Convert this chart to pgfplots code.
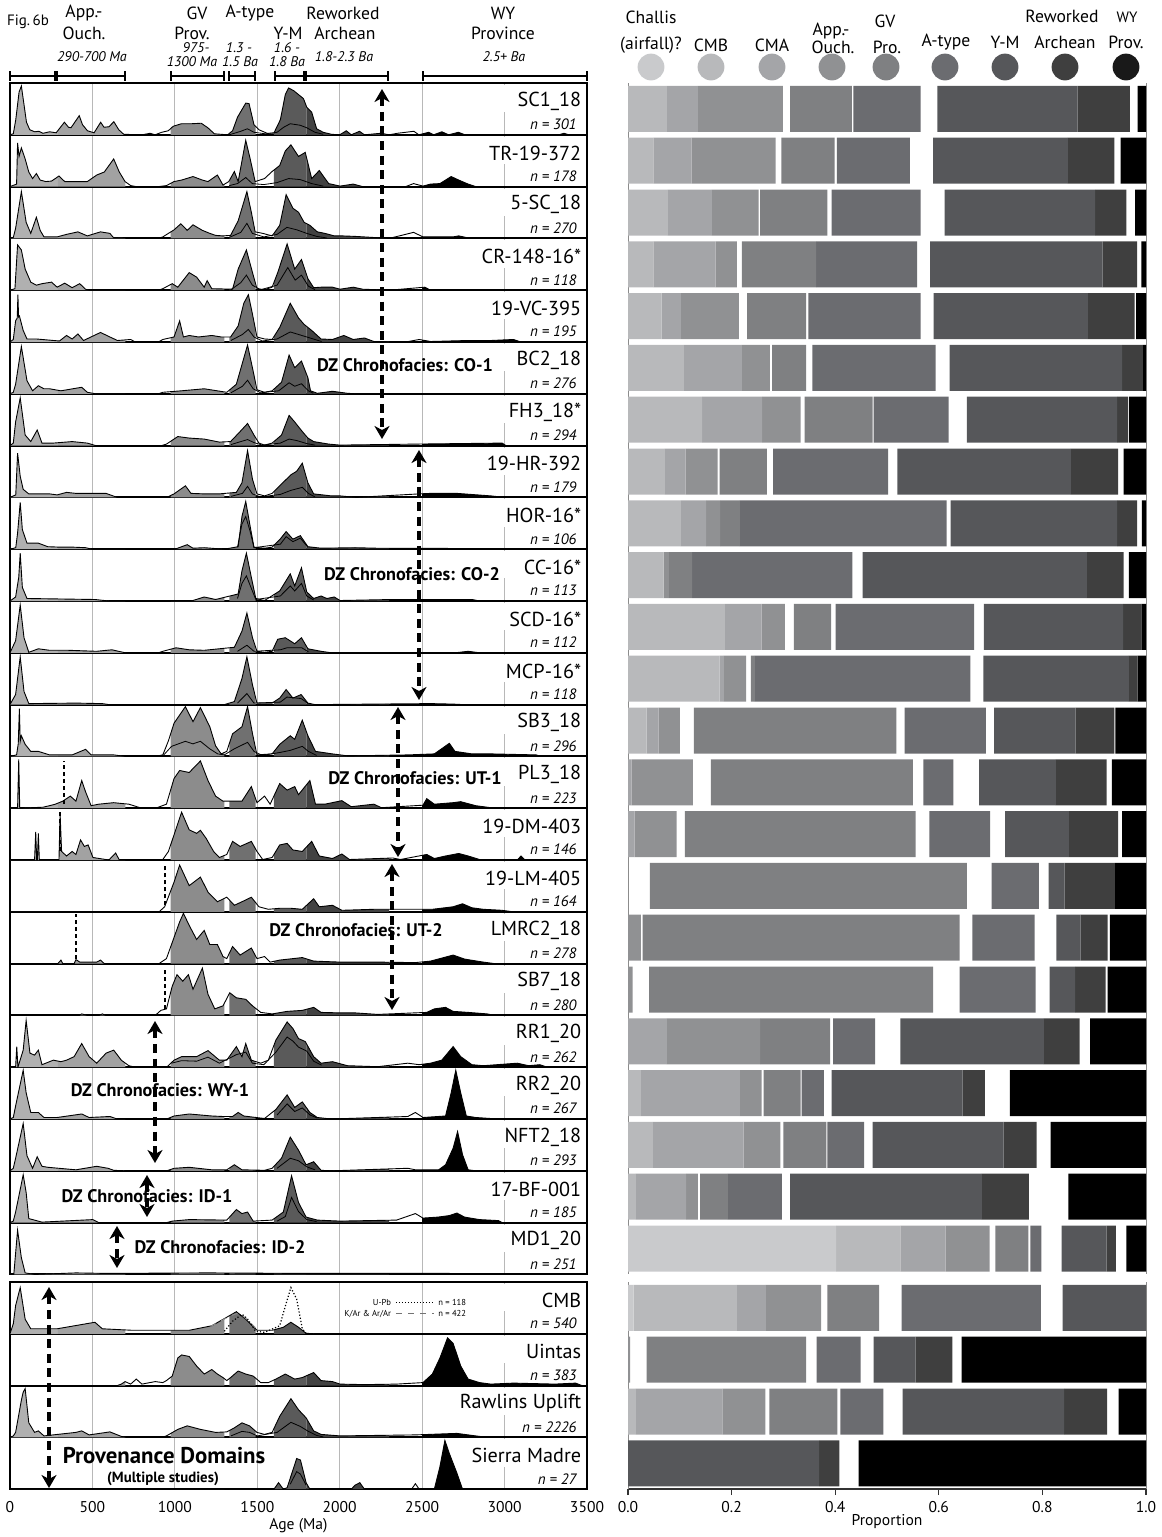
\documentclass[border=0pt]{standalone}
\usepackage{pgfplots}
\pgfplotsset{compat=1.18}
\usepgfplotslibrary{fillbetween}
\usepackage{pgfplotstable}
\usetikzlibrary{arrows.meta}
\usepackage{fontspec}
\setmainfont{PT Sans}

\definecolor{kA}{HTML}{B0B0B0}
\definecolor{kB}{HTML}{A2A2A2}
\definecolor{kC}{HTML}{8C8C8C}
\definecolor{kD}{HTML}{707070}
\definecolor{kE}{HTML}{5A5A5A}
\definecolor{kF}{HTML}{424242}
\definecolor{kG}{HTML}{000000}
\definecolor{b1}{HTML}{C9CACC}
\definecolor{b2}{HTML}{B8B9BB}
\definecolor{b3}{HTML}{A4A5A8}
\definecolor{b4}{HTML}{909193}
\definecolor{b5}{HTML}{7F8082}
\definecolor{b6}{HTML}{6B6C70}
\definecolor{b7}{HTML}{56575A}
\definecolor{b8}{HTML}{3F3F3F}
\definecolor{b9}{HTML}{000000}

\newcommand\rf{\fontsize{10.1}{11}\selectfont}
\newcommand\nf{\fontsize{7.5}{8}\selectfont\itshape}
\newcommand\hf{\fontsize{8.8}{9}\selectfont}
\newcommand\hif{\fontsize{7}{7.5}\selectfont\itshape}
\newcommand\tf{\fontsize{7.8}{8}\selectfont}
\newcommand\lf{\fontsize{4.3}{5}\selectfont}
\newcommand\df{\fontsize{9.1}{9.5}\selectfont\bfseries}

\pgfplotsset{kde/.style={
  scale only axis, width=288.5pt, height=25.9pt, anchor=north west,
  xmin=0, xmax=3500, ymin=0, ymax=1.03,
  axis line style={line width=0.95pt},
  xtick={500,1000,...,3000}, xticklabels={}, ytick=\empty,
  xmajorgrids, grid style={black!28, line width=0.5pt},
  major tick length=0pt, set layers, clip=true}}

\newcommand{\reg}[3]{\addplot[fill=#1,draw=none] fill between[of=k and b,soft clip={(axis cs:#2,-1) rectangle (axis cs:#3,2)}];}
\newcommand{\regions}{%
\reg{kA}{0}{290}\reg{kB}{290}{700}\reg{kC}{975}{1300}\reg{kD}{1330}{1490}%
\reg{kE}{1600}{1800}\reg{kF}{1800}{2300}\reg{kG}{2500}{3500}}

% #1 top (pt), #2 name, #3 n, #4 coordinates, #5 extra, #6 axis options
\newcommand{\kderow}[6]{%
\begin{axis}[kde,at={(5pt,-#1pt)},#6]
\addplot[name path=k,draw=black,line width=0.45pt] coordinates {#4};
\addplot[name path=b,draw=none] coordinates {(0,0) (3500,0)};
\regions
#5
\fill[white] (axis cs:2965,0.45) rectangle (axis cs:3490,0.99);
\node[anchor=east,font=\rf,fill=white,inner sep=1pt] at (rel axis cs:0.994,0.65) {#2};
\node[anchor=east,font=\nf] at (rel axis cs:0.994,0.2) {n = #3};
\end{axis}}

\newcommand{\vdl}[3]{\addplot[black,line width=0.9pt,dash pattern=on 2pt off 1.5pt] coordinates {(#1,#2) (#1,#3)};}
\newcommand{\inl}[1]{\addplot[black,line width=0.4pt] coordinates {#1};}

\pgfplotstableread{
y c1 c2 c3 c4 g5 c5 g6 c6 g7 c7 c8 g9 c9
-54.45  0 0.075 0.060 0.164 0.014 0.119 0.003 0.130 0.032 0.271 0.101 0.015 0.016
-80.35  0 0.049 0.074 0.162 0.011 0.103 0.004 0.141 0.045 0.260 0.090 0.012 0.049
-106.25 0 0.077 0.085 0.090 0.003 0.130 0.008 0.172 0.046 0.291 0.060 0.017 0.021
-132.15 0 0.049 0.120 0.041 0.010 0.143 0 0.195 0.025 0.333 0.067 0.008 0.009
-158.05 0 0.065 0.037 0.112 0.016 0.114 0.004 0.217 0.025 0.298 0.090 0.003 0.019
-183.95 0 0.108 0.112 0.054 0.004 0.066 0.012 0.238 0.027 0.333 0.040 0 0.006
-209.85 0 0.143 0.116 0.074 0.008 0.131 0.002 0.145 0.035 0.290 0.021 0.002 0.033
-235.75 0 0.071 0.040 0.062 0.004 0.091 0.012 0.222 0.018 0.335 0.091 0.011 0.043
-261.65 0 0.102 0.049 0.027 0 0.038 0 0.399 0.008 0.321 0.039 0.009 0.008
-287.55 0 0.069 0 0.010 0 0.045 0 0.309 0.020 0.433 0.071 0.010 0.033
-313.45 0 0.187 0.071 0.045 0.017 0.072 0.009 0.267 0.019 0.269 0.035 0 0.009
-339.35 0 0.177 0.008 0.043 0.009 0.008 0 0.416 0.025 0.281 0.017 0 0.016
-365.25 0 0.036 0.023 0.041 0.027 0.391 0.016 0.157 0.016 0.157 0.075 0.002 0.059
-391.15 0 0 0.007 0.118 0.035 0.390 0.020 0.058 0.050 0.148 0.098 0.010 0.066
-417.05 0 0 0.013 0.081 0.016 0.445 0.027 0.117 0.029 0.123 0.095 0.008 0.046
-442.95 0 0 0 0 0.042 0.612 0.048 0.091 0.019 0.031 0.097 0 0.060
-468.85 0 0 0 0.025 0.003 0.612 0.025 0.120 0.042 0.047 0.052 0.004 0.070
-494.75 0 0 0 0.009 0.032 0.548 0.051 0.147 0.027 0.049 0.059 0.004 0.074
-520.65 0 0 0.075 0.180 0 0.135 0.006 0.081 0.049 0.277 0.069 0.020 0.108
-546.55 0 0.025 0.191 0.042 0.004 0.071 0.002 0.043 0.015 0.253 0.043 0.048 0.263
-572.45 0 0.048 0.175 0.071 0.006 0.083 0.002 0.071 0.016 0.253 0.064 0.027 0.184
-598.35 0 0.015 0.097 0.023 0.004 0.054 0 0.104 0.016 0.370 0.091 0.076 0.150
-624.25 0.402 0.124 0.087 0.085 0.011 0.064 0.004 0.021 0.039 0.087 0.018 0.020 0.038
-653.95 0.011 0.199 0.056 0.107 0.012 0.100 0.043 0.269 0.042 0.161 0 0 0
-679.85 0 0 0 0.004 0.032 0.308 0.020 0.085 0.025 0.081 0.071 0.018 0.356
-705.75 0 0.015 0.167 0.083 0.008 0.131 0.006 0.083 0.037 0.312 0.083 0.022 0.053
-731.65 0 0 0 0 0 0 0 0 0 0.369 0.039 0.037 0.555
}\bars

\newcommand{\barp}[2]{\addplot[fill=#2,draw=none] table[x=#1,y=y] {\bars};}
\newcommand{\gapp}[1]{\addplot[fill=none,draw=none] table[x=#1,y=y] {\bars};}

\tikzset{dzarrow/.style={line width=1.6pt,dash pattern=on 4.5pt off 2.8pt,
  {Stealth[length=6.5pt,width=7.5pt,inset=2pt]}-{Stealth[length=6.5pt,width=7.5pt,inset=2pt]}}}

\begin{document}
\begin{tikzpicture}

\kderow{41.5}{SC1\_18}{301}{(0,0) (20,0.02) (35,0.3) (55,0.85) (69,0.97) (85,0.6) (100,0.25) (120,0.1) (150,0.06) (175,0.07) (200,0.03) (240,0.06) (280,0.04) (330,0.25) (355,0.15) (370,0.14) (420,0.38) (440,0.2) (470,0.08) (510,0.04) (550,0.25) (570,0.15) (600,0.16) (630,0.26) (660,0.1) (690,0.01) (800,0) (850,0.03) (880,0) (920,0.05) (960,0.08) (990,0.17) (1040,0.22) (1100,0.22) (1160,0.23) (1200,0.14) (1240,0.02) (1320,0) (1350,0.08) (1380,0.35) (1430,0.63) (1450,0.62) (1480,0.2) (1510,0.1) (1560,0.03) (1600,0.03) (1640,0.3) (1670,0.8) (1690,0.93) (1720,0.88) (1750,0.8) (1780,0.72) (1800,0.55) (1830,0.45) (1860,0.12) (1900,0.05) (1950,0.01) (2000,0) (2040,0.08) (2070,0) (2120,0.07) (2150,0) (2250,0.03) (2300,0) (2350,0.03) (2400,0.05) (2450,0.07) (2480,0) (2540,0.05) (2570,0) (2620,0.06) (2660,0) (2720,0.05) (2760,0) (3330,0) (3360,0.03) (3390,0) (3500,0)}{\inl{(1330,0) (1400,0.07) (1440,0.12) (1480,0.05) (1550,0.02) (1620,0.05) (1660,0.15) (1700,0.22) (1760,0.19) (1800,0.14) (1850,0.05) (1900,0.01)}}{}

\kderow{67.4}{TR-19-372}{178}{(0,0) (40,0.05) (46,0.87) (55,0.6) (69,0.77) (92,0.55) (114,0.29) (137,0.16) (160,0.26) (183,0.13) (217,0.1) (252,0.11) (297,0.21) (332,0.1) (400,0.1) (469,0.1) (526,0.23) (572,0.29) (629,0.55) (663,0.29) (698,0.1) (732,0.02) (766,0) (900,0) (949,0.02) (995,0.1) (1041,0.13) (1110,0.2) (1167,0.13) (1201,0.1) (1258,0.23) (1292,0.03) (1327,0.1) (1361,0.3) (1384,0.1) (1430,0.92) (1457,0.55) (1487,0.1) (1544,0.16) (1590,0.3) (1636,0.42) (1670,0.71) (1704,0.83) (1750,0.6) (1791,0.68) (1830,0.16) (1876,0.32) (1933,0.06) (2002,0.01) (2082,0.05) (2139,0) (2400,0) (2448,0.06) (2505,0.01) (2551,0.05) (2608,0.06) (2676,0.2) (2722,0.13) (2779,0.05) (2825,0) (3500,0)}{\inl{(1330,0.02) (1380,0.06) (1430,0.18) (1470,0.06) (1540,0.04) (1620,0.08) (1690,0.16) (1760,0.14) (1830,0.06) (1900,0.01)}}{}

\kderow{93.3}{5-SC\_18}{270}{(0,0) (20,0.02) (34,0.2) (69,0.93) (98,0.32) (126,0.1) (160,0.42) (183,0.16) (206,0.03) (286,0.03) (343,0.08) (412,0.13) (469,0.05) (549,0.13) (606,0.1) (629,0.01) (900,0) (927,0.03) (995,0.17) (1036,0.29) (1075,0.16) (1110,0.27) (1167,0.16) (1212,0.1) (1247,0.06) (1292,0.05) (1338,0.06) (1384,0.35) (1437,0.93) (1464,0.52) (1487,0.13) (1533,0.1) (1590,0.05) (1636,0.26) (1675,0.87) (1716,0.6) (1750,0.52) (1784,0.32) (1819,0.26) (1864,0.13) (1910,0.1) (1967,0.05) (2013,0.05) (2093,0.04) (2300,0) (2448,0.12) (2505,0.03) (2650,0.03) (2688,0.03) (2722,0.05) (2779,0.01) (2800,0) (3500,0)}{\inl{(1330,0.02) (1400,0.12) (1437,0.3) (1470,0.1) (1540,0.03) (1620,0.08) (1680,0.22) (1740,0.17) (1800,0.1) (1860,0.04) (1920,0.01)}}{}

\kderow{119.2}{CR-148-16*}{118}{(0,0) (30,0.03) (46,0.9) (69,0.8) (92,0.42) (126,0.16) (160,0.1) (194,0.13) (252,0.16) (286,0.06) (332,0.14) (377,0.05) (423,0.13) (458,0.02) (480,0) (900,0) (927,0.03) (984,0.13) (1018,0.06) (1087,0.35) (1132,0.26) (1178,0.06) (1196,0.19) (1224,0.03) (1350,0.02) (1384,0.42) (1434,0.8) (1471,0.35) (1498,0.03) (1544,0.01) (1590,0.06) (1624,0.35) (1681,0.92) (1727,0.42) (1768,0.61) (1807,0.23) (1842,0.05) (1887,0.06) (1956,0.06) (2002,0.02) (2082,0.06) (2139,0.02) (2300,0) (2516,0.06) (2551,0) (3500,0)}{\inl{(1340,0.01) (1400,0.15) (1434,0.3) (1470,0.1) (1520,0.01) (1620,0.1) (1685,0.45) (1730,0.2) (1768,0.3) (1810,0.08) (1850,0.01)}}{}

\kderow{145.1}{19-VC-395}{195}{(0,0) (20,0.05) (34,0.42) (44,0.48) (48,0.94) (52,0.5) (57,0.52) (80,0.23) (103,0.06) (160,0.06) (300,0.02) (343,0.13) (377,0.06) (412,0.16) (446,0.03) (549,0.19) (606,0.1) (652,0.03) (732,0.05) (760,0) (900,0) (927,0.05) (995,0.1) (1029,0.42) (1052,0.1) (1087,0.13) (1144,0.1) (1224,0.13) (1281,0.1) (1338,0.1) (1384,0.32) (1418,0.77) (1446,0.94) (1471,0.55) (1498,0.1) (1544,0.06) (1590,0.05) (1636,0.29) (1700,0.77) (1750,0.48) (1784,0.35) (1830,0.23) (1887,0.06) (1956,0.05) (2025,0.13) (2082,0.05) (2150,0.08) (2207,0.01) (2400,0) (2482,0.05) (2551,0.01) (2779,0.03) (2917,0.03) (3054,0.05) (3100,0) (3500,0)}{\inl{(1340,0.03) (1410,0.15) (1446,0.25) (1480,0.1) (1530,0.02) (1620,0.06) (1700,0.2) (1760,0.14) (1830,0.07) (1890,0.01)}}{}

\kderow{171}{BC2\_18}{276}{(0,0) (20,0.03) (34,0.19) (69,0.94) (103,0.26) (137,0.06) (172,0.16) (206,0.1) (240,0.1) (309,0.06) (435,0.13) (469,0.03) (520,0) (900,0) (927,0.03) (1041,0.06) (1178,0.1) (1315,0.03) (1373,0.19) (1407,0.58) (1441,0.97) (1475,0.45) (1498,0.08) (1544,0.03) (1590,0.06) (1647,0.23) (1693,0.77) (1727,0.52) (1768,0.65) (1807,0.32) (1823,0.06) (1864,0.01) (1956,0.05) (2047,0.01) (2100,0) (3500,0)}{\inl{(1340,0.02) (1410,0.15) (1441,0.27) (1475,0.1) (1520,0.02) (1630,0.06) (1693,0.22) (1727,0.15) (1768,0.2) (1810,0.06) (1840,0.01)}}{}

\kderow{196.9}{FH3\_18*}{294}{(0,0) (20,0.05) (34,0.47) (62,0.95) (92,0.21) (126,0.08) (165,0.31) (194,0.05) (263,0.05) (377,0.08) (469,0.05) (520,0) (920,0) (949,0.03) (1018,0.18) (1087,0.15) (1178,0.13) (1270,0.07) (1338,0.08) (1396,0.28) (1441,0.44) (1480,0.21) (1510,0.05) (1544,0.01) (1590,0.05) (1647,0.21) (1693,0.6) (1727,0.47) (1773,0.28) (1807,0.15) (1842,0.08) (1933,0.03) (2000,0.01) (2459,0.03) (2985,0.05) (3008,0) (3500,0)}{\inl{(1340,0.02) (1400,0.08) (1441,0.12) (1480,0.06) (1530,0.01) (1640,0.05) (1693,0.13) (1740,0.1) (1800,0.04) (1850,0.01)}}{}

\kderow{222.8}{19-HR-392}{179}{(0,0) (35,0.05) (46,0.88) (62,0.42) (80,0.16) (114,0.07) (240,0.07) (286,0.05) (343,0.1) (400,0.08) (583,0.08) (650,0) (950,0) (995,0.07) (1064,0.23) (1098,0.08) (1178,0.07) (1270,0.07) (1373,0.1) (1407,0.29) (1441,0.93) (1471,0.36) (1498,0.07) (1544,0.03) (1590,0.08) (1636,0.23) (1704,0.45) (1739,0.52) (1773,0.68) (1807,0.29) (1842,0.07) (1950,0.03) (2002,0.03) (2100,0) (2482,0.07) (2551,0.08) (2711,0.08) (2917,0.03) (3000,0) (3500,0)}{\inl{(1340,0.02) (1410,0.08) (1441,0.22) (1470,0.07) (1520,0.01) (1640,0.06) (1704,0.14) (1773,0.2) (1810,0.08) (1850,0.01)}}{}

\kderow{248.7}{HOR-16*}{106}{(0,0) (35,0.03) (46,0.32) (62,0.93) (75,0.39) (103,0.12) (172,0.12) (229,0.05) (309,0.04) (389,0.04) (458,0.03) (500,0) (1000,0) (1075,0.09) (1110,0.02) (1178,0.03) (1300,0) (1384,0.05) (1407,0.65) (1430,0.95) (1457,0.45) (1480,0.04) (1544,0.02) (1590,0.04) (1636,0.19) (1675,0.35) (1716,0.2) (1761,0.27) (1807,0.05) (1887,0.02) (2093,0.03) (2219,0.02) (2642,0.02) (2700,0) (3500,0)}{\inl{(1380,0.04) (1407,0.5) (1430,0.65) (1457,0.35) (1480,0.03) (1640,0.1) (1675,0.25) (1716,0.15) (1761,0.22) (1807,0.04)}}{}

\kderow{274.6}{CC-16*}{113}{(0,0) (34,0.08) (53,0.47) (62,0.95) (75,0.27) (103,0.05) (515,0.03) (600,0) (1100,0) (1178,0.08) (1247,0.03) (1384,0.14) (1407,0.6) (1434,0.95) (1464,0.47) (1491,0.05) (1544,0.01) (1578,0.08) (1636,0.2) (1700,0.54) (1727,0.3) (1768,0.66) (1800,0.18) (1842,0.05) (1887,0.1) (1922,0.05) (1967,0.08) (2002,0.01) (2322,0.03) (2574,0.03) (2802,0.03) (2850,0) (3500,0)}{\inl{(1380,0.05) (1407,0.35) (1434,0.5) (1464,0.25) (1491,0.03) (1640,0.1) (1700,0.3) (1727,0.2) (1768,0.35) (1800,0.1) (1842,0.02)}}{}

\kderow{300.5}{SCD-16*}{112}{(0,0) (34,0.24) (62,0.95) (85,0.3) (114,0.01) (172,0.08) (240,0.05) (355,0.05) (526,0.03) (618,0.06) (700,0) (900,0) (927,0.03) (1007,0.1) (1087,0.06) (1178,0.05) (1361,0.11) (1407,0.43) (1437,0.79) (1471,0.3) (1498,0.03) (1544,0.01) (1590,0.03) (1624,0.27) (1670,0.3) (1727,0.18) (1768,0.3) (1807,0.08) (1887,0.03) (1950,0) (2700,0) (2779,0.03) (2850,0) (3500,0)}{\inl{(1380,0.03) (1437,0.15) (1480,0.03) (1640,0.06) (1680,0.1) (1770,0.1) (1810,0.02)}}{}

\kderow{326.4}{MCP-16*}{118}{(0,0) (34,0.2) (62,0.95) (85,0.26) (114,0.02) (400,0.03) (560,0.02) (600,0) (1300,0) (1361,0.06) (1407,0.52) (1437,0.95) (1471,0.39) (1498,0.03) (1590,0.03) (1636,0.13) (1675,0.3) (1716,0.13) (1766,0.2) (1807,0.03) (1850,0) (2551,0.02) (2688,0.01) (2750,0) (3500,0)}{\inl{(1380,0.03) (1437,0.22) (1480,0.03) (1640,0.05) (1680,0.15) (1766,0.12) (1810,0.02)}}{}

\kderow{352.3}{SB3\_18}{296}{(0,0) (40,0.03) (50,0.25) (57,0.95) (62,0.3) (69,0.41) (92,0.24) (126,0.1) (172,0.1) (240,0.03) (377,0.03) (458,0.14) (492,0.03) (629,0.03) (700,0) (880,0) (927,0.03) (961,0.31) (995,0.66) (1064,0.99) (1110,0.69) (1155,0.97) (1212,0.59) (1247,0.21) (1281,0.05) (1315,0.1) (1350,0.45) (1407,0.59) (1441,0.99) (1471,0.45) (1498,0.03) (1590,0.05) (1636,0.24) (1700,0.41) (1727,0.34) (1773,0.72) (1807,0.41) (1853,0.1) (1956,0.05) (2050,0.01) (2413,0.03) (2574,0.05) (2665,0.26) (2699,0.1) (2802,0.05) (2917,0.05) (3191,0.03) (3220,0) (3500,0)}{\inl{(930,0.02) (980,0.2) (1064,0.3) (1110,0.25) (1155,0.3) (1212,0.15) (1260,0.05) (1300,0.03) (1360,0.15) (1441,0.28) (1480,0.1) (1530,0.02) (1640,0.08) (1700,0.12) (1773,0.2) (1810,0.1) (1860,0.02)}}{}

\kderow{378.2}{PL3\_18}{223}{(0,0) (46,0) (53,0.97) (59,0) (200,0.02) (240,0.05) (275,0.08) (320,0.14) (366,0.24) (400,0.14) (435,0.55) (458,0.33) (492,0.05) (538,0.08) (629,0.11) (721,0.08) (789,0.01) (892,0.01) (949,0.08) (995,0.59) (1029,0.75) (1087,0.71) (1155,0.94) (1201,0.55) (1247,0.24) (1292,0.14) (1338,0.14) (1407,0.14) (1464,0.43) (1498,0.11) (1544,0.24) (1578,0.08) (1636,0.49) (1681,0.36) (1727,0.43) (1750,0.27) (1819,0.55) (1853,0.08) (1910,0.08) (2013,0.15) (2070,0.03) (2207,0.08) (2253,0.01) (2505,0.06) (2528,0.19) (2574,0.08) (2688,0.11) (2734,0.13) (2825,0.05) (2917,0.01) (3000,0) (3500,0)}{\vdl{327}{0.08}{0.94}}{}

\kderow{404.1}{19-DM-403}{146}{(0,0) (149,0) (156,0.56) (162,0) (166,0) (172,0.53) (178,0) (297,0) (304,0.92) (313,0.17) (343,0.08) (377,0.17) (400,0.11) (428,0.4) (451,0.27) (474,0.3) (503,0.05) (600,0) (641,0.14) (663,0) (900,0) (927,0.01) (961,0.17) (995,0.5) (1041,0.95) (1087,0.6) (1132,0.53) (1155,0.59) (1190,0.43) (1235,0.17) (1270,0.05) (1315,0.11) (1350,0.37) (1396,0.27) (1464,0.37) (1498,0.17) (1533,0.01) (1590,0.05) (1636,0.3) (1681,0.33) (1716,0.2) (1773,0.17) (1830,0.37) (1876,0.08) (1956,0.03) (2013,0.12) (2059,0.01) (2322,0.04) (2368,0.01) (2528,0.11) (2574,0.03) (2642,0.08) (2722,0.13) (2779,0.08) (2848,0.01) (3077,0) (3100,0.08) (3123,0) (3500,0)}{\vdl{304}{0.17}{0.95}}{}

\kderow{430}{19-LM-405}{164}{(0,0) (904,0) (938,0.1) (995,0.59) (1029,0.93) (1087,0.52) (1155,0.69) (1201,0.39) (1258,0.2) (1315,0.29) (1361,0.13) (1407,0.2) (1464,0.29) (1510,0.1) (1567,0.05) (1636,0.07) (1704,0.07) (1773,0.05) (1842,0.26) (1876,0.1) (1956,0.13) (2013,0.03) (2207,0.05) (2562,0.05) (2688,0.1) (2745,0.16) (2802,0.08) (2871,0.05) (2985,0.03) (3050,0) (3500,0)}{\vdl{938}{0.13}{0.95}}{}

\kderow{455.9}{LMRC2\_18}{278}{(0,0) (290,0) (309,0.07) (320,0) (389,0) (400,0.08) (423,0.03) (526,0.03) (549,0.07) (572,0) (904,0) (949,0.1) (995,0.52) (1029,0.83) (1052,1.0) (1087,0.76) (1132,0.48) (1178,0.66) (1212,0.38) (1258,0.38) (1292,0.14) (1315,0.1) (1350,0.34) (1396,0.17) (1464,0.31) (1498,0.1) (1544,0.14) (1578,0.03) (1636,0.07) (1773,0.12) (1842,0.05) (2002,0.03) (2230,0.03) (2459,0.02) (2551,0.05) (2688,0.17) (2757,0.09) (2871,0.03) (2940,0) (3500,0)}{\vdl{400}{0.1}{0.99}}{}

\kderow{481.8}{SB7\_18}{280}{(0,0) (420,0) (435,0.03) (469,0) (540,0) (560,0.03) (580,0) (881,0) (915,0.1) (949,0.13) (984,0.58) (1013,0.81) (1048,0.68) (1082,0.81) (1110,0.52) (1167,0.94) (1201,0.42) (1242,0.13) (1292,0.19) (1333,0.45) (1373,0.35) (1430,0.32) (1471,0.19) (1521,0.06) (1590,0.03) (1681,0.08) (1773,0.1) (1842,0.16) (1887,0.06) (2002,0.05) (2093,0.05) (2230,0.02) (2528,0.06) (2574,0.13) (2642,0.16) (2688,0.08) (2779,0.06) (2894,0.03) (2940,0) (3500,0)}{\vdl{938}{0.13}{0.94}}{}

\kderow{507.7}{RR1\_20}{262}{(0,0) (34,0) (41,0.41) (48,0) (80,0.34) (98,0.93) (121,0.28) (149,0.24) (172,0.34) (194,0.05) (263,0.14) (309,0.11) (343,0.14) (389,0.21) (435,0.47) (480,0.21) (526,0.08) (583,0.28) (629,0.34) (675,0.14) (721,0.03) (760,0) (950,0) (995,0.14) (1041,0.21) (1132,0.21) (1201,0.33) (1270,0.14) (1315,0.14) (1373,0.41) (1407,0.21) (1430,0.47) (1464,0.14) (1521,0.08) (1567,0.14) (1613,0.54) (1681,0.9) (1716,0.77) (1750,0.57) (1791,0.51) (1842,0.21) (1887,0.08) (1956,0.11) (2047,0.03) (2230,0.01) (2413,0.08) (2482,0.05) (2551,0.08) (2619,0.14) (2688,0.41) (2734,0.21) (2802,0.05) (2871,0.03) (3077,0.08) (3146,0.03) (3214,0.05) (3260,0) (3500,0)}{\inl{(980,0.08) (1041,0.13) (1132,0.12) (1201,0.2) (1270,0.08) (1373,0.25) (1430,0.3) (1470,0.08) (1540,0.05) (1613,0.3) (1681,0.6) (1716,0.52) (1750,0.4) (1800,0.32) (1842,0.12) (1890,0.04)}}{}

\kderow{533.6}{RR2\_20}{267}{(0,0) (20,0.03) (34,0.26) (80,0.97) (98,0.52) (126,0.13) (172,0.13) (206,0.03) (286,0.03) (435,0.1) (480,0.03) (606,0.05) (650,0) (950,0) (995,0.06) (1087,0.1) (1224,0.06) (1292,0.05) (1350,0.05) (1384,0.13) (1418,0.06) (1544,0.01) (1613,0.19) (1681,0.48) (1727,0.23) (1773,0.34) (1819,0.13) (1864,0.03) (1950,0) (2413,0.05) (2459,0.13) (2505,0.03) (2642,0.06) (2676,0.52) (2704,0.97) (2734,0.52) (2768,0.06) (2825,0.03) (2917,0.01) (2950,0) (3500,0)}{\inl{(1620,0.08) (1681,0.3) (1727,0.15) (1773,0.22) (1820,0.08) (1864,0.02)}}{}

\kderow{559.5}{NFT2\_18}{293}{(0,0) (20,0.05) (34,0.25) (80,0.94) (103,0.3) (137,0.05) (165,0.28) (194,0.09) (229,0.07) (400,0.02) (526,0.09) (595,0.05) (629,0.01) (700,0) (950,0) (995,0.05) (1087,0.07) (1224,0.02) (1315,0.02) (1361,0.12) (1407,0.02) (1544,0.01) (1590,0.05) (1647,0.25) (1700,0.67) (1750,0.41) (1796,0.12) (1842,0.18) (1887,0.01) (1950,0) (2413,0.05) (2459,0.02) (2600,0.02) (2642,0.12) (2688,0.45) (2715,0.78) (2745,0.32) (2779,0.02) (2825,0) (3500,0)}{\inl{(1620,0.05) (1700,0.25) (1750,0.2) (1800,0.08) (1850,0.02)}}{}

\kderow{585.4}{17-BF-001}{185}{(0,0) (20,0.03) (34,0.21) (80,0.95) (98,0.6) (114,0.08) (194,0.01) (503,0.06) (538,0) (950,0) (984,0.03) (1087,0.06) (1315,0.05) (1373,0.26) (1407,0.18) (1441,0.21) (1475,0.03) (1590,0.05) (1658,0.21) (1708,0.93) (1750,0.4) (1796,0.11) (1864,0.05) (2002,0.03) (2345,0.05) (2459,0.18) (2505,0.09) (2597,0.11) (2665,0.14) (2711,0.19) (2757,0.11) (2848,0.06) (2963,0.04) (2985,0) (3500,0)}{\inl{(1620,0.03) (1670,0.12) (1708,0.5) (1750,0.22) (1800,0.06) (1860,0.02)}}{}

\kderow{611.3}{MD1\_20}{251}{(0,0) (23,0) (46,0.88) (69,0.33) (92,0.03) (150,0) (400,0.03) (583,0.02) (1201,0.03) (1773,0.02) (2665,0.02) (2700,0) (3500,0)}{}{}

\kderow{641}{CMB}{540}{(0,0) (20,0.2) (34,0.56) (62,0.92) (92,0.29) (126,0.1) (286,0.1) (515,0.23) (560,0.1) (743,0.07) (1087,0.07) (1224,0.16) (1315,0.33) (1373,0.44) (1430,0.29) (1498,0.07) (1590,0.07) (1658,0.13) (1704,0.23) (1750,0.13) (1796,0.01) (1850,0) (3500,0)}{%
\addplot[black!45,dashed,line width=0.5pt] coordinates {(1150,0.05) (1250,0.2) (1330,0.35) (1390,0.42) (1450,0.25) (1510,0.05)};
\addplot[black,densely dotted,line width=0.6pt] coordinates {(1300,0.05) (1350,0.25) (1407,0.39) (1440,0.3) (1490,0.05) (1544,0.03) (1636,0.16) (1670,0.55) (1704,0.92) (1739,0.69) (1773,0.1) (1796,0.01) (1820,0)};
\node[anchor=east,font=\lf,inner sep=0.5pt] at (axis cs:2320,0.63) {U-Pb};
\addplot[black,densely dotted,line width=0.5pt] coordinates {(2340,0.63) (2570,0.63)};
\node[anchor=west,font=\lf,inner sep=0.5pt] at (axis cs:2590,0.63) {n = 118};
\node[anchor=east,font=\lf,inner sep=0.5pt] at (axis cs:2320,0.4) {K/Ar \& Ar/Ar};
\addplot[black!55,dashed,line width=0.5pt] coordinates {(2340,0.4) (2570,0.4)};
\node[anchor=west,font=\lf,inner sep=0.5pt] at (axis cs:2590,0.4) {n = 422};
}{}

\kderow{666.9}{Uintas}{383}{(0,0) (650,0) (675,0.03) (698,0.08) (732,0.03) (766,0.13) (800,0.03) (881,0.08) (927,0.06) (949,0.1) (984,0.19) (1018,0.55) (1041,0.61) (1087,0.58) (1132,0.39) (1178,0.23) (1224,0.32) (1258,0.23) (1292,0.16) (1315,0.1) (1338,0.16) (1384,0.29) (1430,0.23) (1475,0.19) (1521,0.06) (1567,0.06) (1613,0.13) (1670,0.23) (1727,0.13) (1773,0.16) (1842,0.26) (1887,0.1) (1956,0.08) (2002,0.03) (2150,0.02) (2345,0.03) (2505,0.06) (2562,0.23) (2608,0.55) (2654,0.95) (2688,0.84) (2734,0.39) (2779,0.13) (2848,0.06) (2917,0.03) (3054,0.05) (3306,0.03) (3431,0.05) (3470,0) (3500,0)}{}{}

\kderow{692.8}{Rawlins Uplift}{2226}{(0,0) (20,0.03) (34,0.1) (69,0.74) (80,0.9) (92,0.97) (114,0.29) (149,0.1) (172,0.13) (206,0.03) (400,0.1) (435,0.13) (480,0.05) (606,0.11) (675,0.02) (720,0) (920,0) (949,0.03) (1018,0.16) (1075,0.23) (1155,0.16) (1247,0.1) (1315,0.11) (1361,0.19) (1407,0.29) (1453,0.23) (1498,0.1) (1544,0.06) (1590,0.1) (1636,0.42) (1704,0.77) (1750,0.55) (1796,0.39) (1842,0.13) (1887,0.06) (2002,0.03) (2459,0.05) (2711,0.08) (2825,0.03) (2900,0) (3500,0)}{\inl{(1340,0.03) (1407,0.12) (1453,0.1) (1500,0.03) (1620,0.1) (1704,0.3) (1760,0.22) (1810,0.12) (1860,0.04) (1900,0.01)}}{}

\kderow{718.7}{Sierra Madre}{27}{(0,0) (1601,0) (1629,0.13) (1658,0) (1681,0.03) (1704,0.26) (1739,0.61) (1762,0.58) (1796,0.13) (1819,0) (2070,0) (2093,0.08) (2122,0.13) (2150,0) (2436,0) (2459,0.11) (2482,0) (2574,0) (2608,0.45) (2638,0.97) (2665,0.71) (2711,0.32) (2745,0) (3500,0)}{\inl{(1700,0.1) (1739,0.35) (1762,0.3) (1796,0.08)}}{xtick={0,500,...,3500}, xticklabels={0,500,1000,1500,2000,2500,3000,3500}, xticklabel style={font=\tf,yshift=-2.5pt}, xlabel={Age (Ma)}, xlabel style={font=\tf,yshift=4pt}}

% ---------------- right panel ----------------
\begin{axis}[at={(314pt,-41.5pt)}, anchor=north west, scale only axis,
  width=259pt, height=703.1pt, xmin=0, xmax=1, ymin=-744.6, ymax=-41.5,
  xbar stacked, bar width=23,
  axis x line*=bottom, axis y line=none,
  x axis line style={-, line width=0.8pt, black!80},
  xtick={0,0.2,0.4,0.6,0.8,1}, xticklabels={0.0,0.2,0.4,0.6,0.8,1.0},
  tick align=outside, major tick length=3pt, tick style={black!80, line width=0.6pt},
  xticklabel style={font=\tf,yshift=0.5pt}, ytick=\empty,
  xlabel={Proportion}, xlabel style={font=\tf,yshift=6pt},
  clip=false]
\barp{c1}{b1}
\barp{c2}{b2}
\barp{c3}{b3}
\barp{c4}{b4}
\gapp{g5}
\barp{c5}{b5}
\gapp{g6}
\barp{c6}{b6}
\gapp{g7}
\barp{c7}{b7}
\barp{c8}{b8}
\gapp{g9}
\barp{c9}{b9}
\draw[black!45,line width=0.5pt] (axis cs:0,-41.5) -- (axis cs:0,-637.2);
\draw[black!45,line width=0.5pt] (axis cs:1,-41.5) -- (axis cs:1,-637.2);
\draw[black!45,line width=0.5pt] (axis cs:0,-641) -- (axis cs:0,-744.6);
\draw[black!45,line width=0.5pt] (axis cs:1,-641) -- (axis cs:1,-744.6);
\end{axis}

% ---------------- annotations (pixel units) ----------------
\begin{scope}[x=0.5pt,y=-0.5pt]
\node[font=\fontsize{7.5}{8}\selectfont] at (28,22) {Fig.\,6b};
\node[font=\hf] at (84,13) {App.-};
\node[font=\hf] at (84,33) {Ouch.};
\node[font=\hif] at (92,57) {290-700 Ma};
\node[font=\hf] at (197,13) {GV};
\node[font=\hf] at (192,33) {Prov.};
\node[font=\hif] at (196,48) {975-};
\node[font=\hif] at (192,62) {1300 Ma};
\node[font=\hf] at (250,13) {A-type};
\node[font=\hif] at (239,48) {1.3 -};
\node[font=\hif] at (240,62) {1.5 Ba};
\node[font=\hf] at (288,33) {Y-M};
\node[font=\hif] at (287,48) {1.6 -};
\node[font=\hif] at (287,62) {1.8 Ba};
\node[font=\hf] at (343,13) {Reworked};
\node[font=\hf] at (345,33) {Archean};
\node[font=\hif] at (344,57) {1.8-2.3 Ba};
\node[font=\hf] at (503,13) {WY};
\node[font=\hf] at (503,33) {Province};
\node[font=\hif] at (504,57) {2.5+ Ba};
\foreach \a/\b in {10/55,57/125,171/224,229/255,275/304,306/388,423/587}{
  \draw[line width=0.7pt] (\a,76) -- (\b,76);
  \draw[line width=0.6pt] (\a,71) -- (\a,81);
  \draw[line width=0.6pt] (\b,71) -- (\b,81);}
\node[font=\hf] at (651,17) {Challis};
\node[font=\hf] at (651,45) {(airfall)?};
\node[font=\hf] at (711,45) {CMB};
\node[font=\hf] at (772,45) {CMA};
\node[font=\hf] at (831,31) {App.-};
\node[font=\hf] at (833,47) {Ouch.};
\node[font=\hf] at (885,21) {GV};
\node[font=\hf] at (887,47) {Pro.};
\node[font=\hf] at (946,42) {A-type};
\node[font=\hf] at (1005,42) {Y-M};
\node[font=\hf] at (1062,16) {Reworked};
\node[font=\hf] at (1065,42) {Archean};
\node[font=\fontsize{7.5}{8}\selectfont] at (1127,17) {WY};
\node[font=\hf] at (1126,42) {Prov.};
\fill[b1] (651,67) circle[radius=6.7pt];
\fill[b2] (711,67) circle[radius=6.7pt];
\fill[b3] (772,67) circle[radius=6.7pt];
\fill[b4] (832,67) circle[radius=6.7pt];
\fill[b5] (886,67) circle[radius=6.7pt];
\fill[b6] (945,67) circle[radius=6.7pt];
\fill[b7] (1005,67) circle[radius=6.7pt];
\fill[b8] (1065,67) circle[radius=6.7pt];
\fill[black!90] (1126,67) circle[radius=6.7pt];
\draw[dzarrow] (382,89) -- (382,439);
\draw[dzarrow] (419,450) -- (419,700);
\draw[dzarrow] (398,707) -- (398,857);
\draw[dzarrow] (392,864) -- (392,1010);
\draw[dzarrow] (155,1021) -- (155,1163);
\draw[dzarrow] (147,1175) -- (147,1217);
\draw[dzarrow] (117,1226) -- (117,1268);
\draw[dzarrow] (49,1287) -- (49,1488);
\node[font=\df] at (405,365) {DZ Chronofacies: CO-1};
\node[font=\df] at (412,574) {DZ Chronofacies: CO-2};
\node[font=\df] at (415,778) {DZ Chronofacies: UT-1};
\node[font=\df] at (356,930) {DZ Chronofacies: UT-2};
\node[font=\df] at (160,1090) {DZ Chronofacies: WY-1};
\node[font=\df] at (147,1196) {DZ Chronofacies: ID-1};
\node[font=\df] at (220,1247) {DZ Chronofacies: ID-2};
\node[font=\fontsize{11.4}{12}\selectfont\bfseries] at (164,1456) {Provenance Domains};
\node[font=\fontsize{7.4}{8}\selectfont\bfseries] at (163,1479) {(Multiple studies)};
\end{scope}
\pgfresetboundingbox
\path[use as bounding box] (0pt,0pt) rectangle (581pt,-768.5pt);
\end{tikzpicture}
\end{document}
